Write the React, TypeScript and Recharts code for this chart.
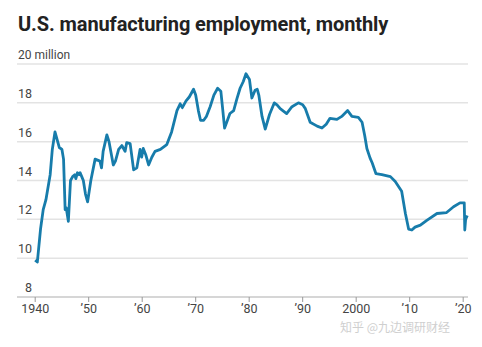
import React from "react";
import { LineChart, Line, XAxis, YAxis, CartesianGrid } from "recharts";

const YEARS = [
  1940.0, 1940.4, 1941.0, 1941.5, 1942.0, 1942.8, 1943.2, 1943.7, 1944.1, 1944.5,
  1945.0, 1945.3, 1945.6, 1945.8, 1946.2, 1946.6, 1947.0, 1947.4, 1947.6, 1947.9,
  1948.2, 1948.4, 1948.7, 1949.0, 1949.4, 1949.8, 1950.4, 1951.2, 1952.1, 1952.4,
  1952.7, 1953.4, 1953.8, 1954.6, 1955.0, 1955.6, 1956.2, 1956.8, 1957.1, 1957.75,
  1958.4, 1959.0, 1959.6, 1959.9, 1960.2, 1960.7, 1961.2, 1961.8, 1962.4, 1963.4,
  1964.6, 1965.5, 1966.5, 1967.1, 1967.5, 1968.2, 1968.8, 1969.6, 1970.0, 1970.5,
  1970.9, 1971.5, 1972.0, 1972.7, 1973.4, 1974.1, 1974.7, 1975.0, 1975.4, 1975.8,
  1976.4, 1977.1, 1977.7, 1978.3, 1978.9, 1979.4, 1980.05, 1980.5, 1981.1, 1981.5,
  1981.8, 1982.4, 1983.0, 1983.8, 1984.7, 1985.2, 1985.8, 1987.0, 1988.0, 1989.2,
  1990.0, 1990.5, 1991.4, 1992.7, 1993.6, 1994.4, 1995.1, 1996.4, 1997.3, 1998.4,
  1999.2, 2000.4, 2001.1, 2001.6, 2002.0, 2002.6, 2003.0, 2003.7, 2004.8, 2006.4,
  2007.3, 2008.5, 2009.2, 2009.8, 2010.4, 2011.0, 2012.0, 2013.2, 2015.1, 2016.9,
  2018.2, 2019.4, 2020.2, 2020.3, 2020.5, 2020.9,
];

// millions of jobs
const EMPLOYMENT = [
  9.9, 9.8, 11.5, 12.5, 13.0, 14.3, 15.6, 16.5, 16.1, 15.7,
  15.6, 15.1, 12.5, 12.6, 11.9, 14.0, 14.2, 14.3, 14.1, 14.4,
  14.3, 14.4, 14.2, 14.0, 13.3, 12.9, 14.0, 15.1, 15.0, 14.65,
  15.5, 16.35, 16.0, 14.8, 15.0, 15.6, 15.8, 15.5, 15.95, 15.9,
  14.55, 14.65, 15.6, 15.2, 15.65, 15.3, 14.8, 15.2, 15.5, 15.6,
  15.85, 16.5, 17.6, 17.95, 17.75, 18.1, 18.3, 18.7, 18.4, 17.6,
  17.1, 17.1, 17.3, 17.8, 18.4, 18.75, 18.6, 17.8, 16.7, 17.0,
  17.45, 17.6, 18.2, 18.75, 19.1, 19.5, 19.2, 18.25, 18.65, 18.7,
  18.4, 17.3, 16.65, 17.4, 18.0, 17.9, 17.7, 17.45, 17.8, 18.0,
  17.9, 17.7, 17.0, 16.8, 16.7, 16.9, 17.2, 17.15, 17.3, 17.6,
  17.3, 17.25, 17.0, 16.3, 15.65, 15.15, 14.9, 14.35, 14.3, 14.2,
  13.95, 13.45, 12.3, 11.5, 11.45, 11.6, 11.7, 11.95, 12.3, 12.35,
  12.65, 12.85, 12.85, 11.45, 12.15, 12.1,
];

const Y_TICKS = [8, 10, 12, 14, 16, 18, 20];
const X_TICKS = [1940, 1950, 1960, 1970, 1980, 1990, 2000, 2010, 2020];

const data = YEARS.map((year, i) => ({ year, value: EMPLOYMENT[i] }));

const FONT = "Roboto, 'Noto Sans', sans-serif";

const yearLabel = (y: number) =>
  y === 1940 || y === 2000 ? String(y) : "\u2019" + String(y).slice(2);

// labels sit above their gridline, numbers right-aligned
const YTick = ({ y, payload }: any) => {
  const v = payload.value;
  if (v === 20) {
    return (
      <text x={18} y={y - 5} fontSize={12} fill="#444" fontFamily={FONT}>
        20 million
      </text>
    );
  }
  return (
    <text x={32} y={y - 5} fontSize={12.5} fill="#444" textAnchor="end" fontFamily={FONT}>
      {v}
    </text>
  );
};

export default function App() {
  return (
    <div style={{ position: "relative", width: 482, height: 347, background: "#fff" }}>
      <style>{`body{margin:0}`}</style>
      <div
        style={{
          position: "absolute",
          left: 18,
          top: 12,
          fontFamily: FONT,
          fontWeight: 700,
          fontSize: 20,
          color: "#222",
          letterSpacing: -0.1,
        }}
      >
        U.S. manufacturing employment, monthly
      </div>
      <LineChart
        width={482}
        height={347}
        data={data}
        margin={{ top: 64, right: 14, bottom: 20, left: 0 }}
      >
        <CartesianGrid vertical={false} stroke="#e3e3e3" strokeWidth={1.5} />
        <XAxis
          dataKey="year"
          type="number"
          domain={[1936.6, 2020.9]}
          ticks={X_TICKS}
          tickFormatter={yearLabel}
          height={30}
          axisLine={{ stroke: "#cfcfcf", strokeWidth: 1.5 }}
          tickLine={{ stroke: "#999" }}
          tickSize={5}
          tick={{ fontSize: 12.5, fill: "#444", fontFamily: FONT }}
          interval={0}
        />
        <YAxis
          type="number"
          domain={[8, 20]}
          ticks={Y_TICKS}
          width={17}
          axisLine={false}
          tickLine={false}
          tick={<YTick />}
          interval={0}
        />
        <Line
          type="linear"
          dataKey="value"
          stroke="#177cab"
          strokeWidth={2.8}
          dot={false}
          isAnimationActive={false}
          strokeLinejoin="round"
        />
      </LineChart>
      <div
        style={{
          position: "absolute",
          left: 340,
          top: 318,
          fontFamily: "'Noto Sans CJK SC', sans-serif",
          fontSize: 12,
          color: "#cfcfcf",
        }}
      >
        知乎 @九边调研财经
      </div>
    </div>
  );
}
